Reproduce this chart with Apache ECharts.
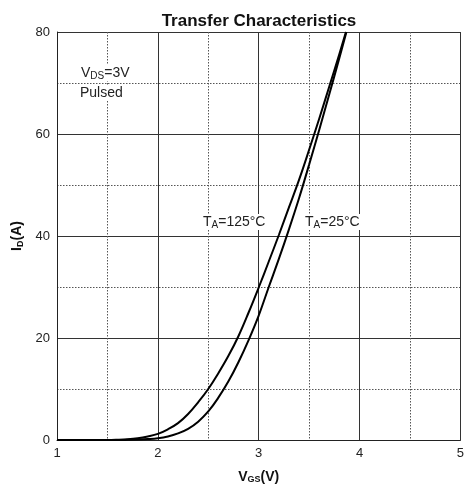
<!DOCTYPE html>
<html><head><meta charset="utf-8">
<script src="https://cdn.jsdelivr.net/npm/echarts@6/dist/echarts.min.js"></script>
<style>html,body{margin:0;padding:0;background:#fff}#c{width:467px;height:491px}</style>
</head><body><div id="c"></div>
<script>
var xTicks = [1, 2, 3, 4, 5];
var yTicks = [0, 20, 40, 60, 80];
var vgs125 = [1.0, 1.5, 1.6, 1.7, 1.8, 1.9, 2.0, 2.1, 2.2, 2.3, 2.4, 2.5, 2.6, 2.7, 2.8, 2.9, 3.0, 3.1, 3.2, 3.3, 3.4, 3.5, 3.6, 3.7, 3.8, 3.865];
var id125  = [0,   0,   0.05,0.15,0.35,0.7, 1.2, 2.1, 3.3, 5.1, 7.4, 10,  13.1,16.5,20.4,25.0,29.9,35.0,40.2,45.6,51.0,56.9,63.0,69.3,75.7,80];
var vgs25  = [1.0, 1.6, 1.7, 1.8, 1.9, 2.0, 2.1, 2.2, 2.3, 2.4, 2.5, 2.6, 2.7, 2.8, 2.9, 3.0, 3.1, 3.2, 3.3, 3.4, 3.5, 3.6, 3.7, 3.8, 3.87];
var id25   = [0,   0,   0.03,0.08,0.18,0.35,0.7, 1.3, 2.2, 3.6, 5.6, 8.3, 11.5,15.3,19.6,24.4,30.0,35.5,41.3,47.4,54.0,60.8,67.8,74.9,80];

function pairs(xs, ys){ return xs.map(function(x,i){ return [x, ys[i]]; }); }
var FONT = 'Liberation Sans, Arial, sans-serif';
var chart = echarts.init(document.getElementById('c'), null, {renderer:'canvas'});
var subStyle = {fontSize: 9, fontWeight: 'bold', fontFamily: FONT, color:'#111', padding:[5,0,0,0]};
var boldStyle = {fontSize: 14, fontWeight: 'bold', fontFamily: FONT, color: '#111'};
chart.setOption({
  animation: false,
  backgroundColor: '#fff',
  title: {
    text: 'Transfer Characteristics', left: 254, top: 8, textAlign: 'center',
    textStyle: {fontSize: 17, fontWeight: 'bold', fontFamily: FONT, color: '#111'}
  },
  grid: {left: 57, right: 4, top: 32, bottom: 51, containLabel: false},
  xAxis: {
    type: 'value', min: xTicks[0], max: xTicks[xTicks.length-1], interval: 1,
    axisLine: {show: true, onZero: false, lineStyle: {color: '#222', width: 1}},
    axisTick: {show: false},
    axisLabel: {fontSize: 13, fontFamily: FONT, color: '#222', margin: 7},
    splitLine: {show: true, lineStyle: {color: '#333', width: 1}},
    minorTick: {show: false, splitNumber: 2},
    minorSplitLine: {show: true, lineStyle: {color: '#555', width: 1, type: [1.5, 1.5]}},
    name: '{b|V}{s|GS}{b|(V)}', nameLocation: 'middle', nameGap: 30,
    nameTextStyle: {rich: {b: boldStyle, s: subStyle}}
  },
  yAxis: {
    type: 'value', min: yTicks[0], max: yTicks[yTicks.length-1], interval: 20,
    axisLine: {show: true, lineStyle: {color: '#222', width: 1}},
    axisTick: {show: false},
    axisLabel: {fontSize: 13, fontFamily: FONT, color: '#222', margin: 7},
    splitLine: {show: true, lineStyle: {color: '#333', width: 1}},
    minorTick: {show: false, splitNumber: 2},
    minorSplitLine: {show: true, lineStyle: {color: '#555', width: 1, type: [1.5, 1.5]}},
    name: '{b|I}{s|D}{b|(A)}', nameLocation: 'middle', nameGap: 28, nameRotate: 90,
    nameTextStyle: {rich: {b: boldStyle, s: subStyle}}
  },
  series: [
    {type: 'line', name: '125', data: pairs(vgs125, id125), smooth: 0.4, showSymbol: false, clip: true,
     lineStyle: {color: '#000', width: 2}},
    {type: 'line', name: '25', data: pairs(vgs25, id25), smooth: 0.4, showSymbol: false, clip: true,
     lineStyle: {color: '#000', width: 2}}
  ]
});
var rs = {
  n: {fontSize: 14, fontFamily: FONT, color: '#222'},
  s: {fontSize: 10, fontFamily: FONT, color: '#222', padding: [6,0,0,0]}
};
function lbl(x, y, txt){
  return {type: 'text', left: x, top: y, z: 50,
    style: {text: txt, rich: rs, backgroundColor: '#fff', padding: [0,1,0,1], font: '14px ' + FONT, fill:'#222'}};
}
chart.setOption({graphic: [
  lbl(80, 65, '{n|V}{s|DS}{n|=3V}'),
  {type: 'text', left: 80, top: 86, z: 50, style: {text: 'Pulsed', font: '14px ' + FONT, fill: '#222', backgroundColor:'#fff'}},
  lbl(202, 214, '{n|T}{s|A}{n|=125°C}'),
  lbl(304, 214, '{n|T}{s|A}{n|=25°C}')
]});
</script></body></html>
